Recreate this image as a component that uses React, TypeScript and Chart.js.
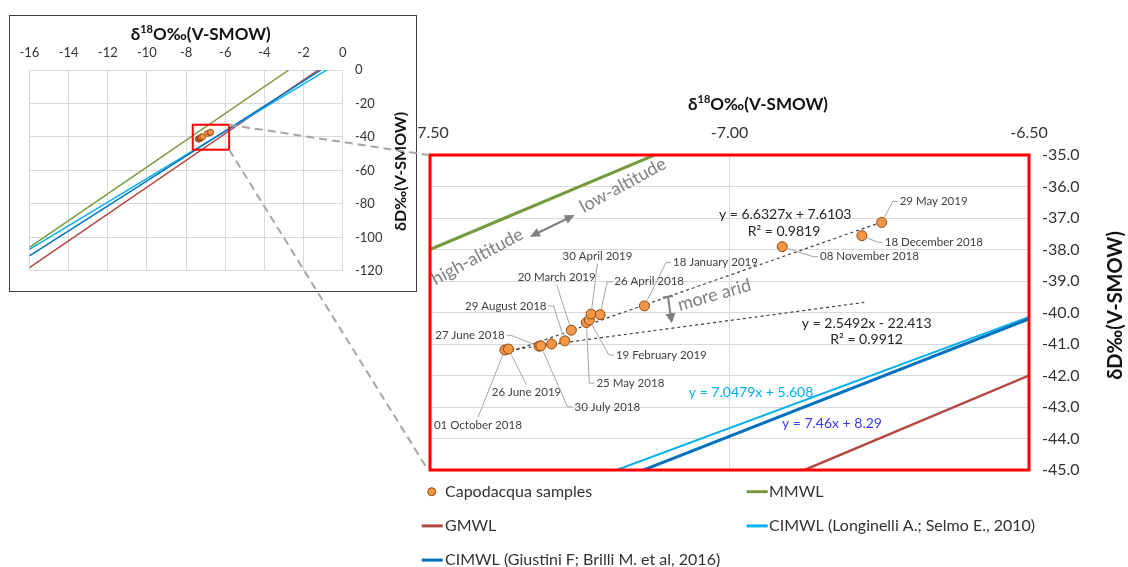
import React, { useEffect, useRef } from "react";
import { Chart, registerables } from "chart.js";
Chart.register(...registerables);

// ---------------- data ----------------
const sampleDates = [
  "01 October 2018", "26 June 2019", "27 June 2018", "30 July 2018", "",
  "29 August 2018", "20 March 2019", "25 May 2018", "19 February 2019",
  "30 April 2019", "26 April 2018", "18 January 2019", "08 November 2018",
  "18 December 2018", "29 May 2019",
];
const sampleO18 = [-7.375, -7.369, -7.318, -7.315, -7.297, -7.275, -7.264, -7.239, -7.234, -7.231, -7.216, -7.142, -6.912, -6.779, -6.746];
const sampleD = [-41.19, -41.16, -41.07, -41.06, -41.0, -40.9, -40.56, -40.32, -40.24, -40.05, -40.07, -39.79, -37.91, -37.56, -37.14];

const mmwlO18 = [-16, -2.75];
const mmwlD = [-106, 0];
const gmwlO18 = [-16, -1.25];
const gmwlD = [-118, 0];
const longO18 = [-16, -0.8];
const longD = [-107.16, 0.07];
const giusO18 = [-16, -1.11];
const giusD = [-111.07, 0.01];
const trendAllO18 = [-7.375, -6.746];
const trendAllD = [-41.31, -37.13];
const trendAridO18 = [-7.375, -6.775];
const trendAridD = [-41.21, -39.68];

const seriesLabels = {
  samples: "Capodacqua samples",
  mmwl: "MMWL",
  gmwl: "GMWL",
  long: "CIMWL (Longinelli A.; Selmo E., 2010)",
  gius: "CIMWL (Giustini F; Brilli M. et al, 2016)",
};

const equationTexts = ["y = 6.6327x + 7.6103", "R² = 0.9819", "y = 2.5492x - 22.413", "R² = 0.9912", "y = 7.0479x + 5.608", "y = 7.46x + 8.29"];
const annotationTexts = ["high-altitude", "low-altitude", "more arid"];
const axisO18Title = ["δ", "18", "O‰(V-SMOW)"];
const axisDTitle = "δD‰(V-SMOW)";

// ---------------- layout / style (not data) ----------------
const FONT = "Lato, 'Open Sans', sans-serif";
const ORANGE = "#F79646";
const ORANGE_EDGE = "#8A4A14";
const GREEN = "#77993C";
const RED = "#B5463F";
const CYAN = "#00B0F0";
const BLUE = "#0070C0";
const GRID = "#d9d9d9";
const TXT = "#333333";

// label offsets in px from each point (dx, dy)
const labelOffsets = [
  [-27, 75], [18, 43], [-69, -10.6], [66.5, 61], [0, 0], [-59, -35], [-14.7, -52.7],
  [44, 60.6], [72, 35], [6.3, -58], [49, -33], [71, -43.3], [87.3, 10], [72, 6.6], [52, -21],
];
// equation anchors (data coords) + colour
const equationPos = [
  [-6.907, -36.9, "#262626"], [-6.909, -37.43, "#262626"],
  [-6.771, -40.34, "#262626"], [-6.771, -40.87, "#262626"],
  [-6.964, -42.55, CYAN], [-6.829, -43.52, "#3A3AF0"],
];
const annotationPos = [[-7.421, -38.225, -28], [-7.178, -35.959, -28.7], [-7.0253, -39.444, -15.9]];
const altArrow = [[-7.3333, -37.594], [-7.2583, -36.905]];
const aridArrow = [[-7.1028, -39.498], [-7.0962, -40.343]];
const zoomBoxO18 = [-7.66, -5.8];
const zoomBoxD = [-32.7, -47.6];

const pts = (xs: number[], ys: number[]) => xs.map((x, i) => ({ x, y: ys[i] }));

function drawO18Title(ctx: CanvasRenderingContext2D, cx: number, cy: number, size: number) {
  const big = `bold ${size}px ${FONT}`;
  const small = `bold ${Math.round(size * 0.62)}px ${FONT}`;
  const parts = [
    { t: axisO18Title[0], f: big, dy: 0 },
    { t: axisO18Title[1], f: small, dy: -size * 0.3 },
    { t: axisO18Title[2], f: big, dy: 0 },
  ];
  let total = 0;
  const widths = parts.map((p) => { ctx.font = p.f; const w = ctx.measureText(p.t).width; total += w; return w; });
  let x = cx - total / 2;
  ctx.fillStyle = "#111";
  ctx.textAlign = "left";
  ctx.textBaseline = "middle";
  parts.forEach((p, i) => { ctx.font = p.f; ctx.fillText(p.t, x, cy + p.dy); x += widths[i]; });
}

function drawDTitle(ctx: CanvasRenderingContext2D, cx: number, cy: number, size: number) {
  ctx.save();
  ctx.translate(cx, cy);
  ctx.rotate(-Math.PI / 2);
  ctx.font = `bold ${size}px ${FONT}`;
  ctx.fillStyle = "#111";
  ctx.textAlign = "center";
  ctx.textBaseline = "middle";
  ctx.fillText(axisDTitle, 0, 0);
  ctx.restore();
}

function arrowHead(ctx: CanvasRenderingContext2D, fx: number, fy: number, tx: number, ty: number, len: number, wid: number) {
  const a = Math.atan2(ty - fy, tx - fx);
  ctx.beginPath();
  ctx.moveTo(tx, ty);
  ctx.lineTo(tx - len * Math.cos(a) + wid * Math.sin(a), ty - len * Math.sin(a) - wid * Math.cos(a));
  ctx.lineTo(tx - len * Math.cos(a) - wid * Math.sin(a), ty - len * Math.sin(a) + wid * Math.cos(a));
  ctx.closePath();
  ctx.fill();
}

const mainPlugin = {
  id: "mainDecor",
  afterDatasetsDraw(chart: any) {
    const ctx: CanvasRenderingContext2D = chart.ctx;
    const xs = chart.scales.x, ys = chart.scales.y;
    const ca = chart.chartArea;
    ctx.save();
    // leader lines + date labels
    ctx.font = `11.5px ${FONT}`;
    sampleDates.forEach((txt, i) => {
      if (!txt) return;
      const px = xs.getPixelForValue(sampleO18[i]);
      const py = ys.getPixelForValue(sampleD[i]);
      const [dx, dy] = labelOffsets[i];
      const lx = px + dx, ly = py + dy;
      const w = ctx.measureText(txt).width;
      const h = 13;
      let path: number[][];
      if (dx > w / 2) path = [[lx - w / 2 - 2, ly], [lx - w / 2 - 7, ly]];
      else if (dx < -w / 2) path = [[lx + w / 2 + 2, ly], [lx + w / 2 + 7, ly]];
      else if (dy > 0) path = [[lx, ly - h / 2 - 1]];
      else path = [[lx, ly + h / 2 + 1]];
      const last = path[path.length - 1];
      const a = Math.atan2(py - last[1], px - last[0]);
      ctx.strokeStyle = "#a6a6a6";
      ctx.lineWidth = 1;
      ctx.setLineDash([]);
      ctx.beginPath();
      ctx.moveTo(path[0][0], path[0][1]);
      for (let k = 1; k < path.length; k++) ctx.lineTo(path[k][0], path[k][1]);
      ctx.lineTo(px - Math.cos(a) * 6, py - Math.sin(a) * 6);
      ctx.stroke();
      ctx.fillStyle = "#404040";
      ctx.textAlign = "center";
      ctx.textBaseline = "middle";
      ctx.fillText(txt, lx, ly);
    });
    // equations
    ctx.font = `14px ${FONT}`;
    equationTexts.forEach((t, i) => {
      const [ex, ey, col] = equationPos[i] as any;
      ctx.fillStyle = col;
      ctx.textAlign = "center";
      ctx.textBaseline = "middle";
      ctx.fillText(t, xs.getPixelForValue(ex), ys.getPixelForValue(ey));
    });
    // rotated grey annotations
    ctx.fillStyle = "#808080";
    ctx.font = `18px ${FONT}`;
    annotationTexts.forEach((t, i) => {
      const [ax, ay, rot] = annotationPos[i];
      ctx.save();
      ctx.translate(xs.getPixelForValue(ax), ys.getPixelForValue(ay));
      ctx.rotate((rot * Math.PI) / 180);
      ctx.textAlign = "center";
      ctx.textBaseline = "middle";
      ctx.fillText(t, 0, 0);
      ctx.restore();
    });
    // double arrow
    ctx.strokeStyle = "#7f7f7f";
    ctx.fillStyle = "#7f7f7f";
    ctx.lineWidth = 2;
    const a1x = xs.getPixelForValue(altArrow[0][0]), a1y = ys.getPixelForValue(altArrow[0][1]);
    const a2x = xs.getPixelForValue(altArrow[1][0]), a2y = ys.getPixelForValue(altArrow[1][1]);
    {
      const ang = Math.atan2(a2y - a1y, a2x - a1x);
      ctx.beginPath();
      ctx.moveTo(a1x + Math.cos(ang) * 8, a1y + Math.sin(ang) * 8);
      ctx.lineTo(a2x - Math.cos(ang) * 8, a2y - Math.sin(ang) * 8);
      ctx.stroke();
      arrowHead(ctx, a2x, a2y, a1x, a1y, 10, 4.5);
      arrowHead(ctx, a1x, a1y, a2x, a2y, 10, 4.5);
    }
    // arid arrow
    const b1x = xs.getPixelForValue(aridArrow[0][0]), b1y = ys.getPixelForValue(aridArrow[0][1]);
    const b2x = xs.getPixelForValue(aridArrow[1][0]), b2y = ys.getPixelForValue(aridArrow[1][1]);
    {
      const ang = Math.atan2(b2y - b1y, b2x - b1x);
      ctx.beginPath();
      ctx.moveTo(b1x, b1y);
      ctx.lineTo(b2x - Math.cos(ang) * 8, b2y - Math.sin(ang) * 8);
      ctx.stroke();
      ctx.beginPath();
      ctx.moveTo(b1x - 5 * Math.sin(ang), b1y + 5 * Math.cos(ang));
      ctx.lineTo(b1x + 5 * Math.sin(ang), b1y - 5 * Math.cos(ang));
      ctx.stroke();
      arrowHead(ctx, b1x, b1y, b2x, b2y, 10, 5);
    }
    // red frame
    ctx.strokeStyle = "#ff0000";
    ctx.lineWidth = 3;
    ctx.strokeRect(ca.left, ca.top, ca.right - ca.left, ca.bottom - ca.top);
    ctx.restore();
  },
  afterDraw(chart: any) {
    const ctx: CanvasRenderingContext2D = chart.ctx;
    const ca = chart.chartArea;
    ctx.save();
    drawO18Title(ctx, (ca.left + ca.right) / 2 + 28.5, ca.top - 50, 17);
    drawDTitle(ctx, ca.right + 87, (ca.top + ca.bottom) / 2 - 7, 20);
    // legend
    const order = [seriesLabels.samples, seriesLabels.mmwl, seriesLabels.gmwl, seriesLabels.long, seriesLabels.gius];
    ctx.font = `16px ${FONT}`;
    ctx.textBaseline = "middle";
    ctx.textAlign = "left";
    order.forEach((lab, i) => {
      const ds = chart.data.datasets.find((d: any) => d.label === lab);
      const col = i % 2, row = Math.floor(i / 2);
      const y = ca.bottom + 21.7 + row * 34.2;
      const x0 = ca.left + (col === 0 ? -8.3 : 316.7);
      if (ds.showLine) {
        ctx.strokeStyle = ds.borderColor;
        ctx.lineWidth = 3;
        ctx.beginPath();
        ctx.moveTo(x0, y);
        ctx.lineTo(x0 + 21, y);
        ctx.stroke();
      } else {
        ctx.fillStyle = ds.backgroundColor;
        ctx.strokeStyle = ds.borderColor;
        ctx.lineWidth = 1;
        ctx.beginPath();
        ctx.arc(x0 + 10, y, 4, 0, Math.PI * 2);
        ctx.fill();
        ctx.stroke();
      }
      ctx.fillStyle = TXT;
      ctx.fillText(lab, x0 + (col === 0 ? 23.3 : 22.3), y);
    });
    ctx.restore();
  },
};

const insetPlugin = {
  id: "insetDecor",
  afterDatasetsDraw(chart: any) {
    const ctx: CanvasRenderingContext2D = chart.ctx;
    const xs = chart.scales.x, ys = chart.scales.y;
    ctx.save();
    ctx.strokeStyle = "#ff0000";
    ctx.lineWidth = 2;
    const x1 = xs.getPixelForValue(zoomBoxO18[0]), x2 = xs.getPixelForValue(zoomBoxO18[1]);
    const y1 = ys.getPixelForValue(zoomBoxD[0]), y2 = ys.getPixelForValue(zoomBoxD[1]);
    ctx.strokeRect(x1, y1, x2 - x1, y2 - y1);
    ctx.restore();
  },
  afterDraw(chart: any) {
    const ctx: CanvasRenderingContext2D = chart.ctx;
    const ca = chart.chartArea;
    ctx.save();
    drawO18Title(ctx, (ca.left + ca.right) / 2 + 14.6, ca.top - 35, 17);
    drawDTitle(ctx, ca.right + 58, (ca.top + ca.bottom) / 2 + 1, 16);
    ctx.restore();
  },
};

function lineDs(label: string, xs: number[], ys: number[], color: string, width: number, extra: any = {}) {
  return { label, data: pts(xs, ys), showLine: true, borderColor: color, backgroundColor: color, borderWidth: width, pointRadius: 0, ...extra };
}

function samplesDs(radius: number, bw: number) {
  return { label: seriesLabels.samples, data: pts(sampleO18, sampleD), backgroundColor: ORANGE, borderColor: ORANGE_EDGE, borderWidth: bw, pointRadius: radius, showLine: false };
}

function axisX(min: number, max: number, step: number, dec: number, size: number, pad: number, h: number) {
  return {
    type: "linear", position: "top", min, max,
    ticks: { stepSize: step, callback: (v: any) => Number(v).toFixed(dec), font: { family: FONT, size }, color: TXT, padding: pad, maxRotation: 0, autoSkip: false },
    grid: { color: GRID, drawTicks: false, lineWidth: 1 },
    border: { display: false },
    afterFit: (s: any) => { s.height = h; },
  };
}
function axisY(min: number, max: number, step: number, dec: number, size: number, pad: number, w: number) {
  return {
    type: "linear", position: "right", min, max,
    ticks: { stepSize: step, callback: (v: any) => Number(v).toFixed(dec), font: { family: FONT, size }, color: TXT, padding: pad, autoSkip: false },
    grid: { color: GRID, drawTicks: false, lineWidth: 1 },
    border: { display: false },
    afterFit: (s: any) => { s.width = w; },
  };
}

export default function App() {
  const mainRef = useRef<HTMLCanvasElement>(null);
  const insetRef = useRef<HTMLCanvasElement>(null);
  const overlayRef = useRef<HTMLCanvasElement>(null);
  const wrapRef = useRef<HTMLDivElement>(null);

  useEffect(() => {
    const main = new Chart(mainRef.current as any, {
      type: "scatter",
      data: {
        datasets: [
          samplesDs(5, 1),
          lineDs("trend all", trendAllO18, trendAllD, "#404040", 1.2, { borderDash: [3, 3] }),
          lineDs("trend arid", trendAridO18, trendAridD, "#404040", 1.2, { borderDash: [3, 3] }),
          lineDs(seriesLabels.gius, giusO18, giusD, BLUE, 3),
          lineDs(seriesLabels.long, longO18, longD, CYAN, 2),
          lineDs(seriesLabels.gmwl, gmwlO18, gmwlD, RED, 2.5),
          lineDs(seriesLabels.mmwl, mmwlO18, mmwlD, GREEN, 3),
        ] as any,
      },
      options: {
        responsive: false,
        animation: false,
        events: [],
        layout: { padding: { left: 430, top: 125, right: 39, bottom: 97 } },
        plugins: { legend: { display: false }, tooltip: { enabled: false } },
        scales: {
          x: axisX(-7.5, -6.5, 0.5, 2, 16, 13, 30) as any,
          y: axisY(-45, -35, 1, 1, 16, 13, 60) as any,
        },
      },
      plugins: [mainPlugin],
    });

    const inset = new Chart(insetRef.current as any, {
      type: "scatter",
      data: {
        datasets: [
          samplesDs(3, 0.8),
          lineDs(seriesLabels.gius, giusO18, giusD, BLUE, 1.5),
          lineDs(seriesLabels.long, longO18, longD, CYAN, 1.5),
          lineDs(seriesLabels.gmwl, gmwlO18, gmwlD, RED, 1.5),
          lineDs(seriesLabels.mmwl, mmwlO18, mmwlD, GREEN, 1.5),
        ] as any,
      },
      options: {
        responsive: false,
        animation: false,
        events: [],
        layout: { padding: { left: 16, top: 24, right: 28.3, bottom: 9.3 } },
        plugins: { legend: { display: false }, tooltip: { enabled: false } },
        scales: {
          x: axisX(-16, 0, 2, 0, 13, 9.5, 30) as any,
          y: axisY(-120, 0, 20, 0, 13, 12.3, 45) as any,
        },
      },
      plugins: [insetPlugin],
    });

    const drawOverlay = () => {
      const ov = overlayRef.current;
      const wrap = wrapRef.current;
      const ic = insetRef.current;
      const mc = mainRef.current;
      if (!ov || !wrap || !ic || !mc) return;
      const ctx = ov.getContext("2d")!;
      ctx.clearRect(0, 0, ov.width, ov.height);
      const wr = wrap.getBoundingClientRect();
      const ir = ic.getBoundingClientRect();
      const mr = mc.getBoundingClientRect();
      const ox = ir.left - wr.left, oy = ir.top - wr.top;
      const mx = mr.left - wr.left, my = mr.top - wr.top;
      const xs: any = inset.scales.x, ys: any = inset.scales.y;
      const rx = ox + xs.getPixelForValue(zoomBoxO18[1]);
      const rTop = oy + ys.getPixelForValue(zoomBoxD[0]);
      const rBot = oy + ys.getPixelForValue(zoomBoxD[1]);
      const ca = main.chartArea;
      ctx.strokeStyle = "#a6a6a6";
      ctx.lineWidth = 2;
      ctx.setLineDash([8, 5]);
      ctx.beginPath();
      ctx.moveTo(rx, rTop);
      ctx.lineTo(mx + ca.left - 2, my + ca.top);
      ctx.moveTo(rx, rBot);
      ctx.lineTo(mx + ca.left - 2, my + ca.bottom);
      ctx.stroke();
    };
    drawOverlay();
    let cancelled = false;
    (document as any).fonts?.ready?.then(() => {
      if (cancelled) return;
      main.update();
      inset.update();
      drawOverlay();
    });
    return () => {
      cancelled = true;
      main.destroy();
      inset.destroy();
    };
  }, []);

  return (
    <div ref={wrapRef} style={{ position: "absolute", left: 0, top: 0, width: 1128, height: 567, background: "#fff", overflow: "hidden" }}>
      <canvas ref={mainRef} width={1128} height={567} style={{ position: "absolute", left: 0, top: 0 }} />
      <div style={{ position: "absolute", left: 9, top: 15, width: 406, height: 275, border: "1px solid #404040", background: "#fff" }}>
        <canvas ref={insetRef} width={406} height={275} style={{ display: "block" }} />
      </div>
      <canvas ref={overlayRef} width={1128} height={567} style={{ position: "absolute", left: 0, top: 0, pointerEvents: "none" }} />
    </div>
  );
}
